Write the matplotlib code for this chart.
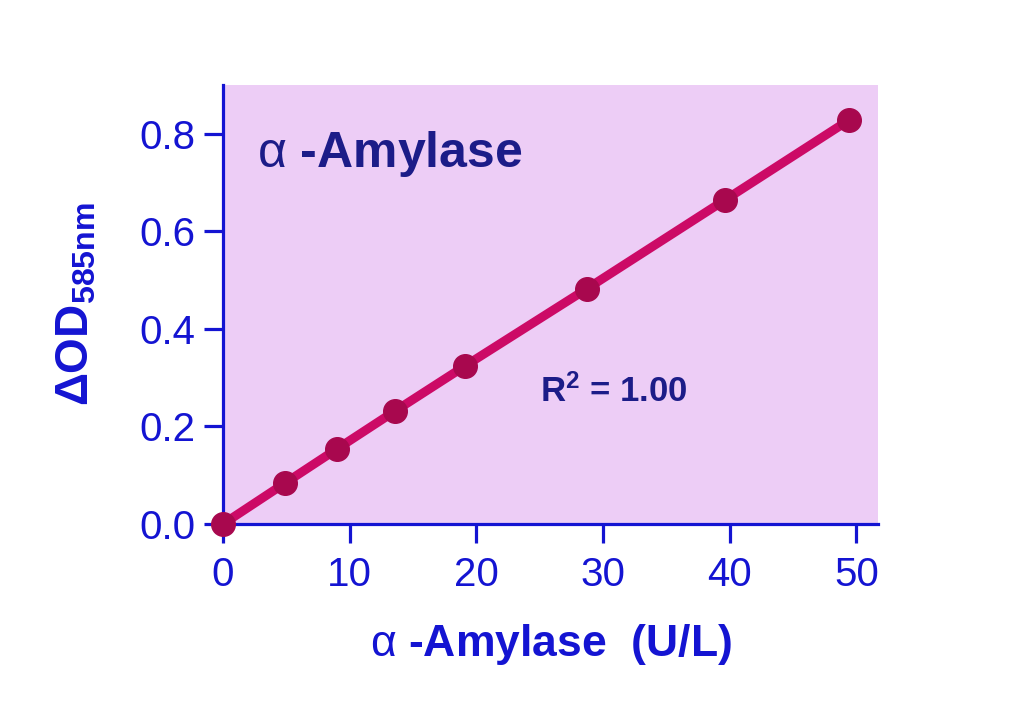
import matplotlib
matplotlib.use("Agg")
import matplotlib.pyplot as plt

amylase = [0, 4.9, 9.0, 13.6, 19.1, 28.7, 39.6, 49.4]
delta_od = [0.0, 0.084, 0.154, 0.232, 0.324, 0.482, 0.664, 0.828]
x_ticks = [0, 10, 20, 30, 40, 50]
y_ticks = [0.0, 0.2, 0.4, 0.6, 0.8]
y_tick_labels = ["0.0", "0.2", "0.4", "0.6", "0.8"]

plt.rcParams['font.family'] = ['Liberation Sans', 'DejaVu Sans']
plt.rcParams['mathtext.fontset'] = 'custom'
plt.rcParams['mathtext.rm'] = 'Liberation Sans'
plt.rcParams['mathtext.bf'] = 'Liberation Sans:bold'
plt.rcParams['mathtext.it'] = 'Liberation Sans:italic'

axis_blue = '#1414D2'
navy = '#1C1C88'

fig = plt.figure(figsize=(10.14, 7.15), dpi=100)
ax = fig.add_axes([0.2199, 0.2671, 0.646, 0.614])
ax.set_facecolor('#EDCDF6')

ax.plot(amylase, delta_od, color='#CC0A66', lw=6.5, solid_capstyle='round',
        zorder=3, clip_on=False)
ax.plot(amylase, delta_od, 'o', color='#A8084E', ms=17, zorder=4, clip_on=False)

ax.set_xlim(0, 51.7)
ax.set_ylim(0, 0.9)
ax.set_xticks(x_ticks)
ax.set_yticks(y_ticks)
ax.set_yticklabels(y_tick_labels)

for s in ['top', 'right']:
    ax.spines[s].set_visible(False)
for s in ['left', 'bottom']:
    ax.spines[s].set_color(axis_blue)
    ax.spines[s].set_linewidth(2.3)

ax.tick_params(axis='both', colors=axis_blue, labelsize=29, length=14, width=2.3)
ax.tick_params(axis='y', pad=6)
ax.tick_params(axis='x', pad=9)

ax.set_xlabel(r'$\mathrm{\alpha}$ -Amylase  (U/L)', fontsize=32, fontweight='bold',
              color=axis_blue, labelpad=20)
ax.set_ylabel(r'$\mathbf{\Delta OD_{585nm}}$', fontsize=33, color=axis_blue, labelpad=29)

ax.text(2.7, 0.731, r'$\mathrm{\alpha}$ -Amylase', fontsize=36, fontweight='bold',
        color=navy, ha='left', va='baseline')
ax.text(25.0, 0.25, r'R$^{\mathbf{2}}$ = 1.00', fontsize=25, fontweight='bold', color=navy,
        ha='left', va='baseline')

fig.savefig('out.png', dpi=100)
